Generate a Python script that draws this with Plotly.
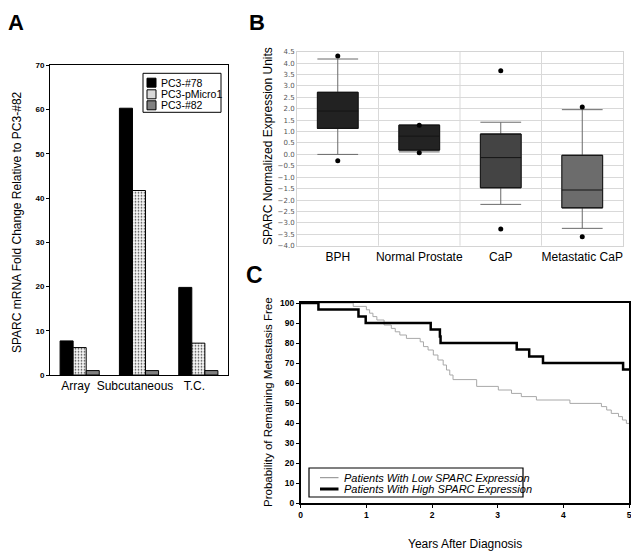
import plotly.graph_objects as go

# ---------------- data ----------------
# Panel A
a_categories = ["Array", "Subcutaneous", "T.C."]
a_series_names = ["PC3-#78", "PC3-pMicro1", "PC3-#82"]
a_pc3_78 = [7.7, 60.3, 19.8]
a_pc3_pmicro1 = [6.2, 41.7, 7.2]
a_pc3_82 = [1.0, 1.0, 1.0]
a_yticks = [0, 10, 20, 30, 40, 50, 60, 70]

# Panel B
b_groups = ["BPH", "Normal Prostate", "CaP", "Metastatic CaP"]
b_q1 = [1.14, 0.19, -1.46, -2.34]
b_median = [1.90, 0.80, -0.14, -1.56]
b_q3 = [2.72, 1.28, 0.89, -0.04]
b_lowerfence = [0.0, 0.11, -2.19, -3.24]
b_upperfence = [4.18, 1.28, 1.41, 1.96]
b_outlier_high = [4.31, 1.28, 3.67, 2.08]
b_outlier_low = [-0.28, 0.07, -3.27, -3.61]
b_yticks = [4.5, 4.0, 3.5, 3.0, 2.5, 2.0, 1.5, 1.0, 0.5, 0.0, -0.5, -1.0,
            -1.5, -2.0, -2.5, -3.0, -3.5, -4.0]

# Panel C (Kaplan-Meier steps)
c_low_years = [0, 0.80, 1.00, 1.05, 1.10, 1.16, 1.27, 1.38, 1.44, 1.51, 1.61,
               1.82, 1.87, 1.94, 2.02, 2.09, 2.17, 2.22, 2.27, 2.32, 2.68, 3.01,
               3.21, 3.36, 3.59, 4.10, 4.58, 4.66, 4.73, 4.84, 4.90, 4.96, 5.0]
c_low_prob = [100, 98.3, 96.6, 94.9, 93.2, 91.5, 89.0, 87.3, 85.6, 84.0, 82.3,
              80.6, 78.2, 76.5, 74.0, 71.5, 69.0, 66.5, 64.0, 61.7, 58.3, 56.5,
              54.8, 53.2, 51.5, 49.8, 48.2, 46.5, 44.8, 43.2, 41.5, 39.8, 39.8]
c_high_years = [0, 0.27, 0.88, 0.99, 1.98, 2.12, 2.13, 3.29, 3.48, 3.69, 4.91, 5.0]
c_high_prob = [100, 96.7, 93.3, 90.0, 86.7, 83.3, 80.0, 76.7, 73.3, 70.0, 66.7, 66.7]
c_series_names = ["Patients With Low SPARC Expression",
                  "Patients With High SPARC Expression"]
c_xticks = [0, 1, 2, 3, 4, 5]
c_yticks = [0, 10, 20, 30, 40, 50, 60, 70, 80, 90, 100]

# The page body adds an 8px margin at top/left, so reference pixel positions
# are shifted by that offset; the figure reaches exactly to the window edge.
OFF = 8
W, H = 639 - OFF, 557 - OFF
FONT = "Liberation Sans, Arial, sans-serif"


def px(x):
    return (x - OFF) / W


def py(y):
    return 1 - (y - OFF) / H


fig = go.Figure()

# ---------------- Panel A: grouped bars ----------------
fig.add_trace(go.Bar(x=a_categories, y=a_pc3_78, name=a_series_names[0],
                     marker=dict(color="black", line=dict(color="black", width=1)),
                     xaxis="x", yaxis="y", showlegend=False))
fig.add_trace(go.Bar(x=a_categories, y=a_pc3_pmicro1, name=a_series_names[1],
                     marker=dict(color="white",
                                 pattern=dict(shape=".", fgcolor="#444444", bgcolor="#f6f6f6",
                                              size=3, solidity=0.25),
                                 line=dict(color="black", width=1)),
                     xaxis="x", yaxis="y", showlegend=False))
fig.add_trace(go.Bar(x=a_categories, y=a_pc3_82, name=a_series_names[2],
                     marker=dict(color="#808080", line=dict(color="black", width=1)),
                     xaxis="x", yaxis="y", showlegend=False))

# ---------------- Panel B: box plots ----------------
b_fill = ["#222222", "#232323", "#444444", "#6c6c6c"]
for i, g in enumerate(b_groups):
    # full box with grey whiskers
    fig.add_trace(go.Box(x=[i], q1=[b_q1[i]], median=[b_median[i]], q3=[b_q3[i]],
                         lowerfence=[b_lowerfence[i]], upperfence=[b_upperfence[i]],
                         name=g, width=0.5, whiskerwidth=1, boxpoints=False,
                         fillcolor=b_fill[i], line=dict(color="#6a6a6a", width=1),
                         xaxis="x2", yaxis="y2", showlegend=False, hoverinfo="skip"))
    # overlay box for dark median / border
    fig.add_trace(go.Box(x=[i], q1=[b_q1[i]], median=[b_median[i]], q3=[b_q3[i]],
                         lowerfence=[b_q1[i]], upperfence=[b_q3[i]],
                         name=g, width=0.5, whiskerwidth=1, boxpoints=False,
                         fillcolor=b_fill[i], line=dict(color="#151515", width=1),
                         xaxis="x2", yaxis="y2", showlegend=False))

fig.add_trace(go.Scatter(x=list(range(len(b_groups))) * 2,
                         y=b_outlier_high + b_outlier_low, mode="markers",
                         marker=dict(color="black", size=5),
                         xaxis="x2", yaxis="y2", showlegend=False))

# ---------------- Panel C: KM curves ----------------
fig.add_trace(go.Scatter(x=c_low_years, y=c_low_prob, mode="lines",
                         line=dict(color="#a8a8a8", width=1, shape="hv"),
                         name=c_series_names[0], xaxis="x3", yaxis="y3", showlegend=False))
fig.add_trace(go.Scatter(x=c_high_years, y=c_high_prob, mode="lines",
                         line=dict(color="black", width=2.5, shape="hv"),
                         name=c_series_names[1], xaxis="x3", yaxis="y3", showlegend=False))

# ---------------- layout ----------------
bold_tick = dict(family=FONT, size=8, color="black", weight="bold")

layout = dict(
    template="none",
    width=W, height=H, margin=dict(l=0, r=0, t=0, b=0, pad=0, autoexpand=False),
    paper_bgcolor="white", plot_bgcolor="white",
    barmode="group", bargap=0.34, bargroupgap=0,
    font=dict(family=FONT, color="black"),
    # A
    xaxis=dict(domain=[px(50), px(228)], anchor="y", showline=True, linecolor="black",
               linewidth=1, mirror=True, ticks="", showgrid=False, automargin=False,
               ticklabelshift=-4,
               tickfont=dict(family=FONT, size=12, color="black")),
    yaxis=dict(domain=[py(375), py(65.3)], anchor="x", range=[0, 70], tickvals=a_yticks,
               showline=True, linecolor="black", linewidth=1, mirror=True,
               ticks="outside", ticklen=3, tickcolor="black", showgrid=False,
               zeroline=False, tickfont=bold_tick, automargin=False),
    # B
    xaxis2=dict(domain=[px(297), px(623)], anchor="y2", range=[-0.5, 3.5],
                tickvals=list(range(len(b_groups))), ticktext=b_groups,
                showgrid=False, zeroline=False, showline=True, linecolor="#d4d4d4",
                mirror=True, ticks="", automargin=False,
                tickfont=dict(family=FONT, size=12, color="black")),
    yaxis2=dict(domain=[py(245.7), py(51.7)], anchor="x2", range=[-4.0, 4.5],
                tickvals=b_yticks, tickformat=".1f", showgrid=True, gridcolor="#d9d9d9",
                gridwidth=1, zeroline=False, showline=True, linecolor="#d4d4d4", mirror=True,
                ticks="", automargin=False,
                tickfont=dict(family="DejaVu Sans", size=7, color="#555555")),
    # C
    xaxis3=dict(domain=[px(300.7), px(629)], anchor="y3", range=[0, 5], tickvals=c_xticks,
                showline=True, linecolor="black", linewidth=1.5, mirror=True,
                ticks="outside", ticklen=3, tickcolor="black", showgrid=False,
                zeroline=False, automargin=False,
                tickfont=dict(family=FONT, size=8.5, color="black", weight="bold")),
    yaxis3=dict(domain=[py(503), py(303)], anchor="x3", range=[0, 100], tickvals=c_yticks,
                showline=True, linecolor="black", linewidth=1.5, mirror=True,
                ticks="outside", ticklen=3, tickcolor="black", showgrid=False,
                zeroline=False, automargin=False,
                tickfont=dict(family=FONT, size=8.5, color="black", weight="bold")),
)

shapes = []
# B vertical category separators
for k in [0.5, 1.5, 2.5]:
    shapes.append(dict(type="line", xref="x2", yref="y2 domain", x0=k, x1=k, y0=0, y1=1,
                       line=dict(color="#d9d9d9", width=1), layer="below"))

# A legend box
shapes.append(dict(type="rect", xref="paper", yref="paper", x0=px(143), x1=px(221),
                   y0=py(112.3), y1=py(73.3), line=dict(color="black", width=1),
                   fillcolor="white"))
a_icon_fill = ["black", "#d8d8d8", "#808080"]
a_rows = [82.7, 94.3, 105.3]
annotations = []
for name, fill, ry in zip(a_series_names, a_icon_fill, a_rows):
    shapes.append(dict(type="rect", xref="paper", yref="paper", x0=px(147), x1=px(156),
                       y0=py(ry + 4.5), y1=py(ry - 4.5), line=dict(color="black", width=1),
                       fillcolor=fill))
    annotations.append(dict(text=name, x=px(159), y=py(ry), xref="paper", yref="paper",
                            xanchor="left", yanchor="middle", showarrow=False,
                            font=dict(family=FONT, size=10.5, color="black")))

# C legend box
shapes.append(dict(type="rect", xref="paper", yref="paper", x0=px(309), x1=px(523),
                   y0=py(497), y1=py(468), line=dict(color="black", width=1.2),
                   fillcolor="white"))
c_rows = [477.7, 489.0]
c_line_style = [dict(color="#888888", width=1), dict(color="black", width=3)]
for name, ls, ry in zip(c_series_names, c_line_style, c_rows):
    shapes.append(dict(type="line", xref="paper", yref="paper", x0=px(320), x1=px(338.5),
                       y0=py(ry), y1=py(ry), line=ls))
    annotations.append(dict(text=name, x=px(342), y=py(ry), xref="paper", yref="paper",
                            xanchor="left", yanchor="middle", showarrow=False,
                            font=dict(family=FONT, size=11, color="black", style="italic")))

# Panel letters (A and B anchored at the top edge so their boxes stay inside)
annotations.append(dict(text="A", x=px(16), y=1, xref="paper", yref="paper",
                        xanchor="center", yanchor="top", showarrow=False,
                        font=dict(family=FONT, size=22, color="black", weight="bold")))
annotations.append(dict(text="B", x=px(256.5), y=1, xref="paper", yref="paper",
                        xanchor="center", yanchor="top", showarrow=False,
                        font=dict(family=FONT, size=22, color="black", weight="bold")))
annotations.append(dict(text="C", x=px(254), y=py(274.5), xref="paper", yref="paper",
                        xanchor="center", yanchor="middle", showarrow=False,
                        font=dict(family=FONT, size=23, color="black", weight="bold")))

# Axis titles
annotations.append(dict(text="SPARC mRNA Fold Change Relative to PC3-#82", x=px(17),
                        y=py(222), xref="paper", yref="paper", textangle=-90,
                        xanchor="center", yanchor="middle",
                        showarrow=False, font=dict(family=FONT, size=12, color="black")))
annotations.append(dict(text="SPARC Normalized Expression Units", x=px(268), y=py(146),
                        xref="paper", yref="paper", textangle=-90, showarrow=False,
                        xanchor="center", yanchor="middle",
                        font=dict(family=FONT, size=12, color="black")))
annotations.append(dict(text="Probability of Remaining Metastasis Free", x=px(268),
                        y=py(402), xref="paper", yref="paper", textangle=-90,
                        xanchor="center", yanchor="middle",
                        showarrow=False, font=dict(family=FONT, size=11.5, color="black")))
annotations.append(dict(text="Years After Diagnosis", x=px(465), y=py(544), xref="paper",
                        yref="paper", showarrow=False, xanchor="center", yanchor="middle",
                        font=dict(family=FONT, size=12, color="black")))

layout["shapes"] = shapes
layout["annotations"] = annotations
fig.update_layout(**layout)

fig.write_html("out.html")
